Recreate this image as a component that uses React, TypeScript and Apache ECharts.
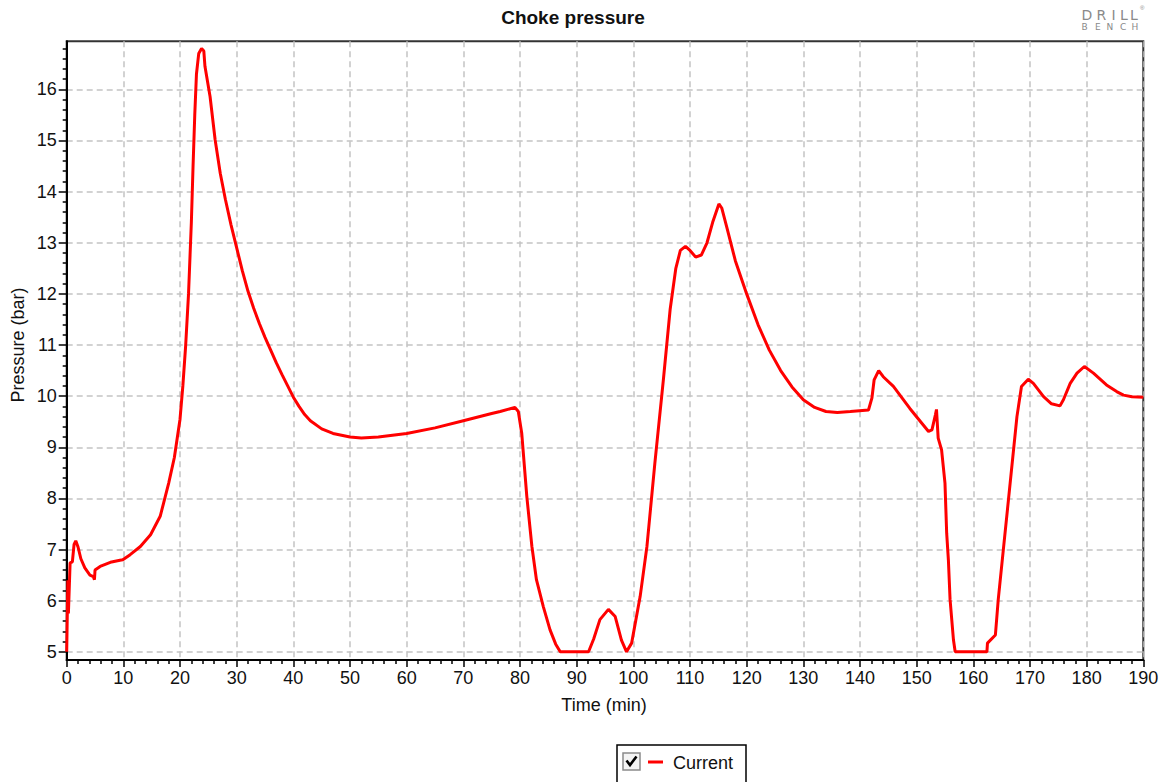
import React, { useEffect, useRef } from "react";
import * as echarts from "echarts";

const timeMin: number[] = [
  0, 0.2, 0.3, 0.6, 1.0, 1.3, 1.6, 2.0, 2.5, 3.2, 4.1, 4.7, 4.9, 5.0, 5.9, 7.7, 9.4, 9.9, 11.2, 13.0,
  14.8, 16.5, 17.1, 18, 19, 20, 20.5, 21, 21.5, 22, 22.3, 22.6, 22.9, 23.3, 23.8, 24.2, 24.4, 25.3, 26.2, 27.1,
  28, 29, 30, 31, 32, 33, 34, 35, 36, 37, 38, 39, 40, 41, 42, 43, 45, 47, 50, 52,
  55, 60, 65, 70, 75, 76.5, 79.1, 79.7, 80.3, 81.2, 82.1, 82.9, 84.1, 85.3, 86.3, 87.1, 92.1, 93, 94.1, 95.6,
  96.8, 97.9, 98.8, 99.7, 101.2, 102.4, 103.8, 105.3, 106.5, 107.5, 108.3, 109.2, 110, 111, 112, 113, 114, 115.1, 115.6, 116.5,
  118, 120, 122, 124, 126, 128, 130, 132, 134, 136, 138.3, 141.5, 142.1, 142.5, 143.3, 144.1, 145.9, 148.8, 152.1, 152.7,
  153.3, 153.5, 153.8, 154.4, 155.0, 155.3, 155.6, 155.9, 156.5, 156.8, 162.4, 162.5, 163.9, 164.4, 165.3, 166.2, 167.1, 167.7, 168.5, 169.7,
  170.6, 172.4, 173.8, 175.3, 175.9, 177.1, 178.3, 179.6, 181.2, 183.5, 185.3, 186.5, 188, 190,
];

const pressureBar: number[] = [
  5.0, 6.4, 5.75, 6.74, 6.76, 7.1, 7.17, 7.05, 6.82, 6.64, 6.5, 6.47, 6.41, 6.6, 6.67, 6.75, 6.79, 6.8, 6.9, 7.06,
  7.29, 7.65, 7.91, 8.3, 8.8, 9.55, 10.2, 11.0, 12.0, 13.4, 14.5, 15.5, 16.3, 16.7, 16.8, 16.75, 16.45, 15.86, 15.01, 14.36,
  13.85, 13.35, 12.9, 12.45, 12.05, 11.72, 11.42, 11.15, 10.9, 10.65, 10.42, 10.2, 9.98, 9.8, 9.64, 9.52, 9.36, 9.27, 9.2, 9.18,
  9.2, 9.27, 9.38, 9.52, 9.66, 9.7, 9.78, 9.7, 9.28, 8.04, 7.06, 6.41, 5.89, 5.43, 5.15, 5.0, 5.0, 5.25, 5.63, 5.83,
  5.69, 5.23, 5.0, 5.17, 6.08, 7.06, 8.69, 10.32, 11.7, 12.5, 12.85, 12.93, 12.85, 12.72, 12.76, 13.0, 13.4, 13.76, 13.68, 13.3,
  12.65, 12.0, 11.4, 10.9, 10.5, 10.18, 9.93, 9.78, 9.7, 9.68, 9.7, 9.73, 9.96, 10.32, 10.5, 10.38, 10.19, 9.76, 9.31, 9.34,
  9.63, 9.74, 9.18, 8.95, 8.3, 7.32, 6.8, 6.02, 5.23, 5.0, 5.0, 5.17, 5.33, 6.02, 7.0, 7.97, 8.95, 9.6, 10.19, 10.33,
  10.25, 9.99, 9.85, 9.81, 9.93, 10.25, 10.45, 10.58, 10.45, 10.22, 10.09, 10.02, 9.99, 9.98,
];

const yMajorTicks: number[] = [5, 6, 7, 8, 9, 10, 11, 12, 13, 14, 15, 16];
const yMinorStep = 0.2;
const yRange: number[] = [4.84, 16.94];
const xRange: number[] = [0, 190];
const xInterval = 10;

const FONT = "Liberation Sans, Arial, sans-serif";

export default function App() {
  const ref = useRef<HTMLDivElement>(null);
  useEffect(() => {
    if (!ref.current) return;
    const chart = echarts.init(ref.current, undefined, { renderer: "svg" });
    const data = timeMin.map((t, i) => [t, pressureBar[i]]);
    const minorTicks: number[] = [];
    for (let v = yMajorTicks[0]; v <= yRange[1] + 1e-9; v = Math.round((v + yMinorStep) * 100) / 100) {
      if (!yMajorTicks.includes(v)) minorTicks.push(v);
    }
    const logoGray = "#8a8a8a";
    const drill = [
      ["D", 1081.5], ["R", 1096.5], ["I", 1111.5], ["L", 1120], ["L", 1130],
    ];
    const bench = [
      ["B", 1081.5], ["E", 1095], ["N", 1106.5], ["C", 1120], ["H", 1131.5],
    ];
    const option: any = {
      animation: false,
      backgroundColor: "#fff",
      textStyle: { fontFamily: FONT },
      grid: {
        left: 66.7,
        right: 20.7,
        top: 41.3,
        bottom: 122,
        show: true,
        borderColor: "#333",
        borderWidth: 2,
        backgroundColor: "#fff",
        containLabel: false,
        outerBoundsMode: "none",
      },
      xAxis: {
        type: "value",
        min: xRange[0],
        max: xRange[1],
        interval: xInterval,
        axisLine: { show: true, onZero: false, lineStyle: { color: "#000", width: 2 } },
        axisTick: { show: true, inside: false, length: 7, lineStyle: { color: "#000", width: 1.5 } },
        minorTick: { show: true, splitNumber: 5, length: 4, lineStyle: { color: "#000", width: 1.5 } },
        axisLabel: { fontSize: 18, color: "#111", margin: 9, fontFamily: FONT },
        splitLine: { show: true, lineStyle: { color: "#c4c4c4", type: [6, 4], width: 1.5 } },
      },
      yAxis: [
        {
          type: "value",
          position: "left",
          min: yRange[0],
          max: yRange[1],
          axisLine: { show: true, onZero: false, lineStyle: { color: "#000", width: 2 } },
          axisTick: {
            show: true,
            inside: false,
            length: 8,
            customValues: yMajorTicks,
            lineStyle: { color: "#000", width: 1.5 },
          },
          axisLabel: { fontSize: 18, color: "#111", margin: 10, customValues: yMajorTicks, fontFamily: FONT },
          splitLine: { show: true, lineStyle: { color: "#c4c4c4", type: [6, 4], width: 1.5 } },
        },
        {
          type: "value",
          position: "left",
          offset: 0,
          min: yRange[0],
          max: yRange[1],
          axisLine: { show: false },
          axisTick: {
            show: true,
            inside: false,
            length: 4,
            customValues: minorTicks,
            lineStyle: { color: "#000", width: 1.5 },
          },
          axisLabel: { show: false },
          splitLine: { show: false },
        },
      ],
      series: [
        {
          type: "line",
          name: "Current",
          yAxisIndex: 0,
          data,
          showSymbol: false,
          symbol: "none",
          smooth: false,
          clip: true,
          lineStyle: { color: "#ff0000", width: 3 },
          itemStyle: { color: "#ff0000" },
        },
      ],
      graphic: [
        {
          type: "text",
          x: 573,
          y: 17,
          style: {
            text: "Choke pressure",
            font: `bold 19px ${FONT}`,
            fill: "#111",
            align: "center",
            verticalAlign: "middle",
          },
        },
        {
          type: "text",
          x: 604,
          y: 705,
          style: {
            text: "Time (min)",
            font: `18px ${FONT}`,
            fill: "#111",
            align: "center",
            verticalAlign: "middle",
          },
        },
        {
          type: "text",
          x: 18,
          y: 345,
          rotation: Math.PI / 2,
          style: {
            text: "Pressure (bar)",
            font: `18px ${FONT}`,
            fill: "#111",
            align: "center",
            verticalAlign: "middle",
          },
        },
        ...drill.map(([ch, x]) => ({
          type: "text",
          x: x as number,
          y: 15,
          style: {
            text: ch as string,
            font: `14px DejaVu Sans, sans-serif`,
            fill: logoGray,
            align: "left",
            verticalAlign: "middle",
          },
        })),
        {
          type: "text",
          x: 1140,
          y: 8,
          style: { text: "®", font: `6px ${FONT}`, fill: logoGray, align: "left", verticalAlign: "middle" },
        },
        ...bench.map(([ch, x]) => ({
          type: "text",
          x: x as number,
          y: 27,
          style: {
            text: ch as string,
            font: `9px DejaVu Sans, sans-serif`,
            fill: logoGray,
            align: "left",
            verticalAlign: "middle",
          },
        })),
        {
          type: "rect",
          shape: { x: 617, y: 745, width: 129, height: 40 },
          style: { fill: "#fff", stroke: "#000", lineWidth: 1.5 },
        },
        {
          type: "rect",
          shape: { x: 623, y: 753, width: 17, height: 17 },
          style: { fill: "#f4f4f4", stroke: "#8a8a8a", lineWidth: 1.5 },
        },
        {
          type: "polyline",
          shape: { points: [[626.5, 760.5], [630, 765], [636.5, 756.5]] },
          style: { stroke: "#000", lineWidth: 2.6, fill: null },
        },
        {
          type: "line",
          shape: { x1: 648, y1: 762, x2: 663, y2: 762 },
          style: { stroke: "#ff0000", lineWidth: 3 },
        },
        {
          type: "text",
          x: 673,
          y: 763,
          style: {
            text: "Current",
            font: `18px ${FONT}`,
            fill: "#111",
            align: "left",
            verticalAlign: "middle",
          },
        },
      ],
    };
    chart.setOption(option);
    return () => chart.dispose();
  }, []);
  return (
    <div
      ref={ref}
      style={{ position: "fixed", left: 0, top: 0, width: 1164, height: 782, background: "#fff" }}
    />
  );
}
